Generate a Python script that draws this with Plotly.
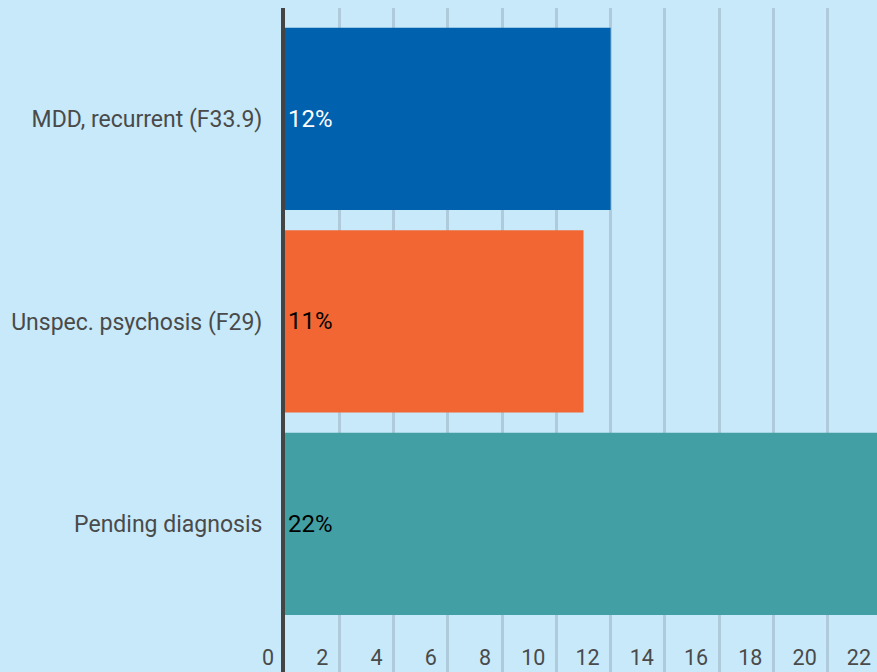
import plotly.graph_objects as go

# ---- data ----
categories = ["MDD, recurrent (F33.9)", "Unspec. psychosis (F29)", "Pending diagnosis"]
values = [12, 11, 22]
bar_labels = ["12%", "11%", "22%"]
x_ticks = [0, 2, 4, 6, 8, 10, 12, 14, 16, 18, 20, 22]

# ---- style ----
bar_colors = ["#0061AE", "#F26633", "#42A0A4"]
text_colors = ["#FFFFFF", "#000000", "#000000"]
BG = "#C7E9F9"
GRID = "#AFCBDB"
AXIS = "#444444"
LABEL = "#4A4A4A"
FONT = "Roboto"

fig = go.Figure(
    go.Bar(
        x=values,
        y=categories,
        orientation="h",
        width=0.9,
        marker=dict(color=bar_colors, line=dict(width=0)),
        text=bar_labels,
        textposition="inside",
        insidetextanchor="start",
        textfont=dict(color=text_colors, size=24, family=FONT),
        hoverinfo="skip",
    )
)

fig.update_layout(
    width=882,
    height=672,
    margin=dict(l=285, r=0, t=8, b=0, pad=0),
    paper_bgcolor=BG,
    plot_bgcolor=BG,
    showlegend=False,
    font=dict(family=FONT, color=LABEL, size=23),
    xaxis=dict(
        range=[0, 22],
        tickmode="array",
        tickvals=x_ticks,
        ticktext=[str(t) for t in x_ticks],
        showgrid=True,
        gridcolor=GRID,
        gridwidth=3,
        zeroline=False,
        showline=False,
        ticks="",
        ticklabelposition="outside left",
        ticklabelshift=-11,
        anchor="free",
        position=0.0437,
        tickfont=dict(size=21.5, color=LABEL, family=FONT),
    ),
    yaxis=dict(
        categoryorder="array",
        categoryarray=categories,
        range=[2.731, -0.548],
        showgrid=False,
        zeroline=False,
        showline=True,
        linecolor=AXIS,
        linewidth=4,
        ticks="",
        ticklabelstandoff=14,
        tickfont=dict(size=23, color=LABEL, family=FONT),
    ),
)

fig.write_html(
    "out.html",
    config={"displayModeBar": False},
    post_script="document.body.style.margin='0';document.body.style.background='#C7E9F9';",
)
